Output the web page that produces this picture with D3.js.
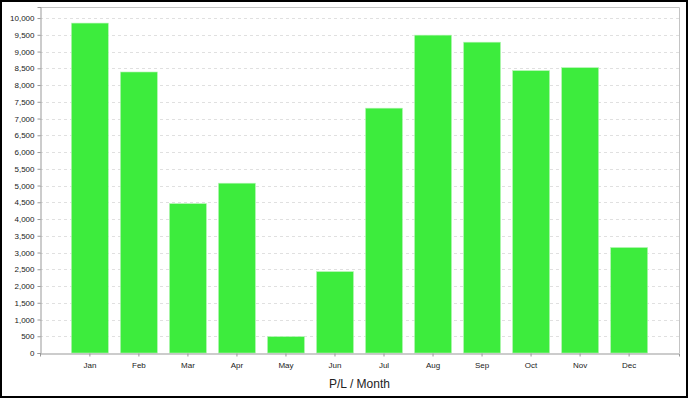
<!DOCTYPE html>
<html>
<head>
<meta charset="utf-8">
<script src="https://cdn.jsdelivr.net/npm/d3@7"></script>
<style>
  body { margin: 0; background: #fff; }
  svg { display: block; font-family: "Liberation Sans", Arial, sans-serif; }
</style>
</head>
<body>
<svg id="chart"></svg>
<script>
var months = ["Jan", "Feb", "Mar", "Apr", "May", "Jun", "Jul", "Aug", "Sep", "Oct", "Nov", "Dec"];
var profit = [9850, 8390, 4460, 5070, 490, 2430, 7310, 9490, 9280, 8430, 8520, 3150];
var yTicks = d3.range(0, 10001, 500);
var title = "P/L / Month";

var dimensions = {
    width: 688,
    height: 398,
    margin: { top: 7, right: 9, bottom: 45, left: 40 }
};

var svg = d3.select("#chart")
    .attr("width", dimensions.width)
    .attr("height", dimensions.height);

// outer frame
svg.append("rect")
    .attr("x", 1).attr("y", 1)
    .attr("width", dimensions.width - 2)
    .attr("height", dimensions.height - 2)
    .attr("fill", "#fff")
    .attr("stroke", "#000")
    .attr("stroke-width", 2);

// plot area edges (note: "top" is reserved on window, so use plot* names)
var plotLeft = dimensions.margin.left,
    plotRight = dimensions.width - dimensions.margin.right,
    plotTop = dimensions.margin.top,
    plotBottom = dimensions.height - dimensions.margin.bottom;

var xScale = d3.scaleBand()
    .domain(months)
    .range([plotLeft, plotRight])
    .paddingInner(0.245)
    .paddingOuter(0.64);

var yScale = d3.scaleLinear()
    .domain([0, 10330])
    .range([plotBottom, plotTop]);

// dashed grid
svg.append("g")
    .selectAll("line")
    .data(yTicks.filter(function (d) { return d > 0; }))
    .enter()
    .append("line")
    .attr("x1", plotLeft).attr("x2", plotRight)
    .attr("y1", function (d) { return Math.round(yScale(d)) + 0.5; })
    .attr("y2", function (d) { return Math.round(yScale(d)) + 0.5; })
    .attr("stroke", "#e0e0e0")
    .attr("stroke-dasharray", "3,3");

// plot border (top / right)
svg.append("path")
    .attr("d", "M" + (plotLeft + 0.5) + "," + (plotTop + 0.5) + "H" + (plotRight + 0.5) + "V" + (plotBottom + 0.5))
    .attr("fill", "none")
    .attr("stroke", "#c4c4c4");

// bars
svg.append("g")
    .selectAll("rect")
    .data(profit)
    .enter()
    .append("rect")
    .attr("x", function (d, i) { return xScale(months[i]); })
    .attr("y", function (d) { return yScale(d); })
    .attr("width", xScale.bandwidth())
    .attr("height", function (d) { return plotBottom - yScale(d); })
    .attr("fill", "#3dec3d")
    .attr("stroke", "#b8f5b8")
    .attr("stroke-width", 0.6);

var yAxisgen = d3.axisLeft(yScale)
    .tickValues(yTicks)
    .tickSize(3)
    .tickPadding(3)
    .tickFormat(d3.format(","));

var xAxisgen = d3.axisBottom(xScale)
    .tickSize(3)
    .tickPadding(6);

var yAxis = svg.append("g")
    .attr("transform", "translate(" + (plotLeft + 0.5) + ",0)")
    .call(yAxisgen);

var xAxis = svg.append("g")
    .attr("transform", "translate(0," + (plotBottom + 0.5) + ")")
    .call(xAxisgen);

[xAxis, yAxis].forEach(function (ax) {
    ax.select(".domain").attr("stroke", "#999");
    ax.selectAll(".tick line").attr("stroke", "#999");
    ax.selectAll("text")
        .attr("fill", "#222")
        .style("font-size", "8px")
        .style("font-family", "'Liberation Sans', Arial, sans-serif");
});

svg.append("text")
    .attr("x", (plotLeft + plotRight) / 2)
    .attr("y", 388)
    .attr("text-anchor", "middle")
    .attr("fill", "#222")
    .style("font-size", "12px")
    .text(title);
</script>
</body>
</html>
